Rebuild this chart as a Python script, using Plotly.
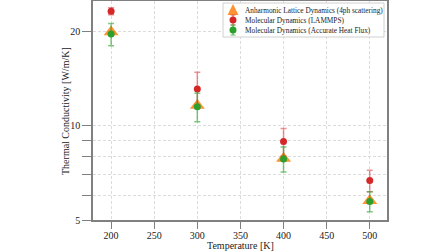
import plotly.graph_objects as go

temps = [200, 300, 400, 500]
ald_k = [19.9, 11.6, 7.85, 5.76]
md_lammps_k = [23.2, 13.1, 8.9, 6.68]
md_lammps_err = [0.6, 1.7, 0.9, 0.53]
md_ahf_k = [19.6, 11.5, 7.83, 5.73]
md_ahf_err = [1.6, 1.2, 0.72, 0.42]
series_names = [
    "Anharmonic Lattice Dynamics (4ph scattering)",
    "Molecular Dynamics (LAMMPS)",
    "Molecular Dynamics (Accurate Heat Flux)",
]
x_title = "Temperature [K]"
y_title = "Thermal Conductivity [W/m/K]"

font_family = "Liberation Serif"
orange = "rgba(255,127,14,0.85)"
red = "#d62728"
green = "#2ca02c"
red_err = "rgba(214,39,40,0.5)"
green_err = "rgba(44,160,44,0.6)"
grid_dash = "3px,2px"

fig = go.Figure()
fig.add_trace(go.Scatter(
    x=temps, y=ald_k, mode="markers", name=series_names[0],
    marker=dict(symbol="triangle-up", size=13, color=orange),
))
fig.add_trace(go.Scatter(
    x=temps, y=md_lammps_k, mode="markers", name=series_names[1],
    marker=dict(symbol="circle", size=7, color=red),
    error_y=dict(type="data", array=md_lammps_err, color=red_err, thickness=1.5, width=3),
))
fig.add_trace(go.Scatter(
    x=temps, y=md_ahf_k, mode="markers", name=series_names[2],
    marker=dict(symbol="circle", size=7, color=green),
    error_y=dict(type="data", array=md_ahf_err, color=green_err, thickness=1.5, width=3),
))

axis_common = dict(
    showline=True, linecolor="#808080", linewidth=1.5, mirror=True,
    ticks="outside", tickcolor="#808080", tickwidth=1.2,
    gridcolor="#dcdcdc", griddash=grid_dash, gridwidth=1,
    zeroline=False, automargin=False,
    tickfont=dict(family=font_family, size=10, color="#222"),
)
title_font = dict(family=font_family, size=10, color="#222")

fig.update_xaxes(
    range=[179, 520], tickvals=[200, 250, 300, 350, 400, 450, 500], ticklen=7,
    ticklabelstandoff=-2,
    **axis_common,
)
fig.update_yaxes(
    type="log", range=[0.69897, 1.39794], tickvals=[5, 10, 20], ticktext=["5", "10", "20"],
    ticklen=9,
    minor=dict(tickvals=[6, 7, 8, 9], ticks="outside", ticklen=9, tickcolor="#808080",
               showgrid=True, gridcolor="#dcdcdc", griddash=grid_dash),
    **axis_common,
)

# custom compact legend (paper coordinates of the plot area)
W, H = 294.0, 219.0
def px(x):
    return (x - 93) / W
def py(y):
    return (220 - y) / H

shapes = [
    dict(type="rect", xref="paper", yref="paper", x0=px(223), x1=px(384), y0=py(37), y1=py(3),
         fillcolor="rgba(255,255,255,0.92)", line=dict(color="#d0d0d0", width=1), layer="above"),
]
sx = px(233)
rows = [py(10), py(20), py(30)]
shapes.append(dict(type="path", xref="paper", yref="paper", xsizemode="pixel", ysizemode="pixel",
                   xanchor=sx, yanchor=rows[0], path="M -5.5,-5 L 5.5,-5 L 0,6 Z",
                   fillcolor=orange, line=dict(width=0), layer="above"))
for r, c, ec in [(rows[1], red, red_err), (rows[2], green, green_err)]:
    shapes.append(dict(type="line", xref="paper", yref="paper", xsizemode="pixel", ysizemode="pixel",
                       xanchor=sx, yanchor=r, x0=0, x1=0, y0=-5, y1=5,
                       line=dict(color=ec, width=1.5), layer="above"))
    for yy in (-5, 5):
        shapes.append(dict(type="line", xref="paper", yref="paper", xsizemode="pixel", ysizemode="pixel",
                           xanchor=sx, yanchor=r, x0=-2.5, x1=2.5, y0=yy, y1=yy,
                           line=dict(color=ec, width=1.2), layer="above"))
    shapes.append(dict(type="circle", xref="paper", yref="paper", xsizemode="pixel", ysizemode="pixel",
                       xanchor=sx, yanchor=r, x0=-3.5, x1=3.5, y0=-3.5, y1=3.5,
                       fillcolor=c, line=dict(width=0), layer="above"))

annotations = []
for name, r in zip(series_names, rows):
    annotations.append(dict(xref="paper", yref="paper", x=px(243), y=r, xanchor="left", yanchor="middle",
                            text=name, showarrow=False,
                            font=dict(family=font_family, size=7.3, color="#222")))
# axis titles
annotations.append(dict(xref="paper", yref="paper", x=px(240), y=py(246), xanchor="center", yanchor="middle",
                        text=x_title, showarrow=False, font=title_font))
annotations.append(dict(xref="paper", yref="paper", x=px(65), y=py(111), xanchor="center", yanchor="middle",
                        text=y_title, showarrow=False, textangle=-90, font=title_font))

fig.update_layout(
    width=448, height=252,
    margin=dict(l=93, r=61, t=1, b=32),
    plot_bgcolor="white", paper_bgcolor="white",
    font=dict(family=font_family, size=9, color="#222"),
    showlegend=False,
    shapes=shapes, annotations=annotations,
)

fig.write_html("out.html", config={"displayModeBar": False},
               post_script="document.body.style.margin='0';document.body.style.overflow='hidden';")
